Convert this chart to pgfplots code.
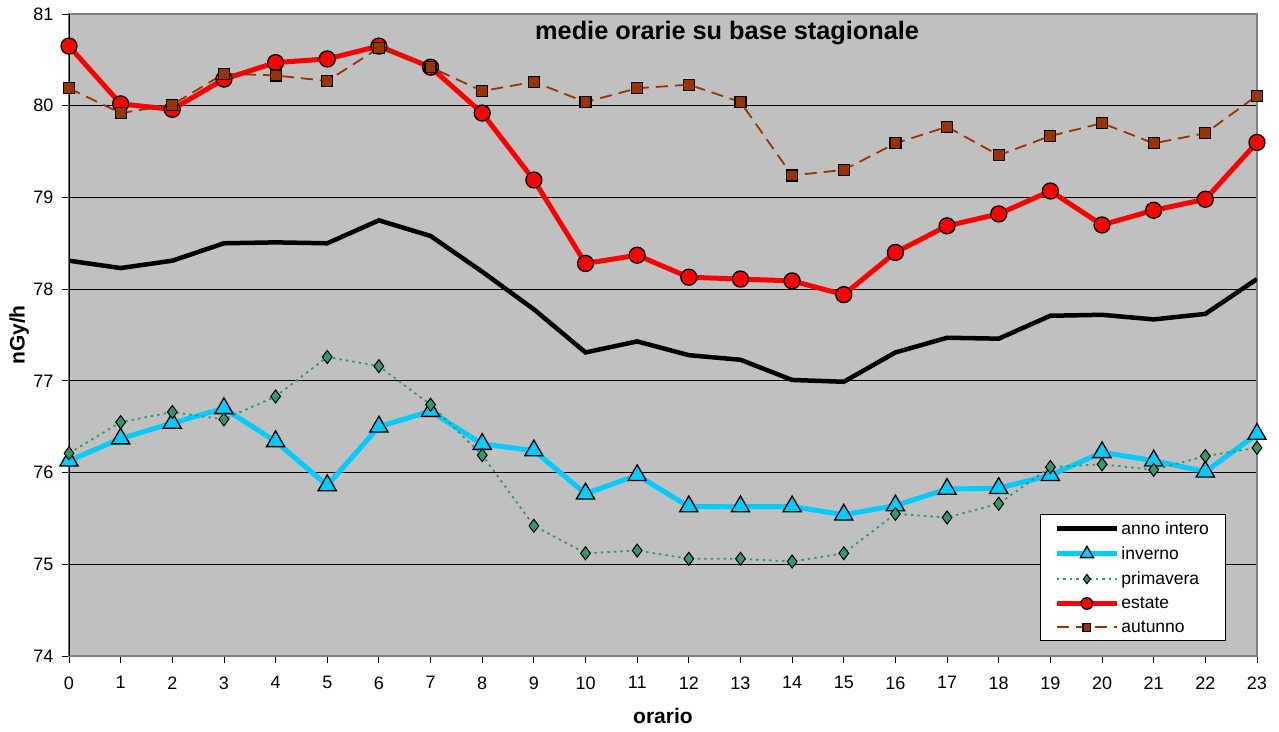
\documentclass[border=0pt]{standalone}
\usepackage{pgfplots}
\pgfplotsset{compat=1.18}
\usepackage{fontspec}
\setmainfont{Liberation Sans}
\definecolor{bg}{HTML}{C0C0C0}
\definecolor{inv}{HTML}{00CCFF}
\definecolor{prim}{HTML}{339966}
\definecolor{aut}{HTML}{993300}
\definecolor{axgray}{HTML}{808080}
\begin{document}
\begin{tikzpicture}
\begin{axis}[
  scale only axis, width=1188pt, height=642pt,
  xmin=0, xmax=23, ymin=74, ymax=81,
  xtick={0,...,23}, ytick={74,...,81},
  axis background/.style={fill=bg},
  axis line style={draw=axgray, line width=1.2pt},
  ymajorgrids, grid style={black, line width=0.9pt},
  tick align=outside, tick pos=left, major tick length=7pt,
  tick style={black, line width=0.9pt},
  ticklabel style={font=\fontsize{18}{20}\selectfont},
  xticklabel style={yshift=-10pt},
  yticklabel style={xshift=-5pt},
  /pgf/number format/assume math mode=true,
  xlabel={orario}, ylabel={nGy/h},
  label style={font=\bfseries\fontsize{21}{24}\selectfont},
  xlabel style={at={(axis description cs:0.5,-0.0935)}, anchor=center},
  ylabel style={at={(axis description cs:-0.042,0.5)}, anchor=center},
  legend style={at={(axis description cs:0.9735,0.023)}, anchor=south east,
    draw=black, fill=white, line width=1pt, font=\fontsize{17.5}{19}\selectfont,
    row sep=7pt, inner xsep=14pt, inner ysep=5pt,
    /tikz/every odd column/.style={}, nodes={inner xsep=2pt}},
  legend cell align=left,
  legend image code/.code={\draw[mark repeat=2,mark phase=2,#1,every mark/.append style={scale=0.72}] plot coordinates {(0pt,0pt) (30pt,0pt) (60pt,0pt)};},
]
\draw[black, line width=1.2pt] (axis cs:0,74) -- (axis cs:0,81);
\addplot[black, line width=4.5pt] coordinates {
(0,78.31) (1,78.23) (2,78.31) (3,78.50) (4,78.51) (5,78.50) (6,78.75) (7,78.58)
(8,78.19) (9,77.78) (10,77.31) (11,77.43) (12,77.28) (13,77.23) (14,77.01) (15,76.99)
(16,77.31) (17,77.47) (18,77.46) (19,77.71) (20,77.72) (21,77.67) (22,77.73) (23,78.11)};
\addlegendentry{anno intero}
\addplot[inv, line width=5pt, mark=triangle*, mark size=10.5pt,
  mark options={solid, fill=inv, draw=black, line width=1.3pt}] coordinates {
(0,76.13) (1,76.37) (2,76.54) (3,76.70) (4,76.34) (5,75.86) (6,76.50) (7,76.67)
(8,76.31) (9,76.24) (10,75.77) (11,75.97) (12,75.63) (13,75.63) (14,75.63) (15,75.54)
(16,75.64) (17,75.82) (18,75.83) (19,75.97) (20,76.22) (21,76.13) (22,76.01) (23,76.42)};
\addlegendentry{inverno}
\addplot[prim, line width=1.8pt, dash pattern=on 2.5pt off 4pt, mark=diamond*, mark size=6.5pt,
  mark options={solid, fill=prim, draw=black, line width=1pt}] coordinates {
(0,76.21) (1,76.55) (2,76.66) (3,76.58) (4,76.83) (5,77.26) (6,77.16) (7,76.74)
(8,76.19) (9,75.42) (10,75.12) (11,75.15) (12,75.06) (13,75.06) (14,75.03) (15,75.12)
(16,75.55) (17,75.51) (18,75.66) (19,76.06) (20,76.09) (21,76.03) (22,76.18) (23,76.27)};
\addlegendentry{primavera}
\addplot[red, line width=5pt, mark=*, mark size=8pt,
  mark options={solid, fill=red, draw=black, line width=1.3pt}] coordinates {
(0,80.65) (1,80.02) (2,79.96) (3,80.29) (4,80.47) (5,80.51) (6,80.65) (7,80.42)
(8,79.92) (9,79.19) (10,78.28) (11,78.37) (12,78.13) (13,78.11) (14,78.09) (15,77.94)
(16,78.40) (17,78.69) (18,78.82) (19,79.07) (20,78.70) (21,78.86) (22,78.98) (23,79.60)};
\addlegendentry{estate}
\addplot[aut, line width=1.8pt, dash pattern=on 12pt off 7pt, mark=square*, mark size=5.5pt,
  mark options={solid, fill=aut, draw=black, line width=1.2pt}] coordinates {
(0,80.19) (1,79.92) (2,80.01) (3,80.35) (4,80.33) (5,80.27) (6,80.63) (7,80.42)
(8,80.16) (9,80.26) (10,80.04) (11,80.19) (12,80.23) (13,80.04) (14,79.24) (15,79.30)
(16,79.59) (17,79.77) (18,79.46) (19,79.67) (20,79.81) (21,79.59) (22,79.70) (23,80.11)};
\addlegendentry{autunno}
\node[font=\bfseries\fontsize{25.3}{29}\selectfont, anchor=center] at (axis description cs:0.554,0.970) {medie orarie su base stagionale};
\end{axis}
\pgfresetboundingbox
\path[use as bounding box] (-69pt,-75pt) rectangle (1210pt,656pt);
\end{tikzpicture}
\end{document}
